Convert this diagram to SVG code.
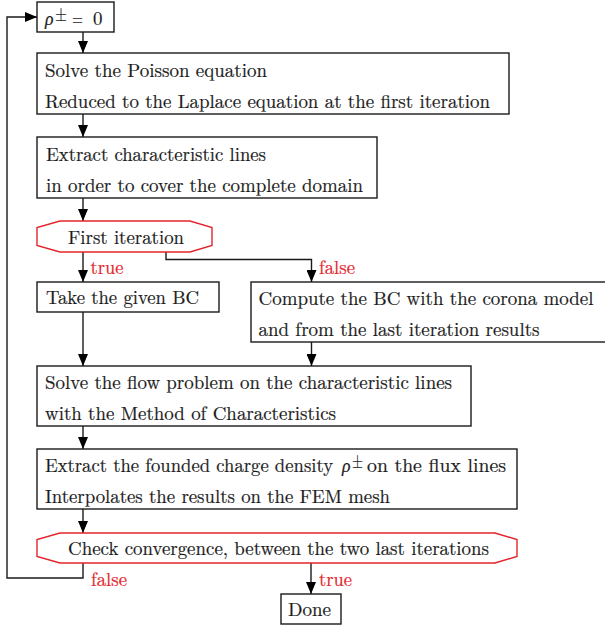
<svg xmlns="http://www.w3.org/2000/svg" width="605" height="627" viewBox="0 0 605 627" font-family="Latin Modern Roman, Liberation Serif, serif">
<defs>
<style>
.box{fill:#fff;stroke:#1a1a1a;stroke-width:1.4}
.dec{fill:#fff;stroke:#e3242b;stroke-width:1.4}
.t{font-size:19px;fill:#1a1a1a;stroke:#1a1a1a;stroke-width:0.2}
.lbl{font-size:19px;fill:#e3242b;stroke:#e3242b;stroke-width:0.2}
.c{fill:none;stroke:#1a1a1a;stroke-width:1.4}
</style>
<marker id="ah" viewBox="0 0 12 10" refX="12" refY="5" markerWidth="12" markerHeight="10" markerUnits="userSpaceOnUse" orient="auto">
<path d="M0,0 L12,5 L0,10 Z" fill="#000"/>
</marker>
</defs>
<rect width="605" height="627" fill="#fff"/>

<g id="connectors" font-family="Latin Modern Roman, Liberation Serif, serif">
<path class="c" d="M83,563 V578 H7 V17 H37" marker-end="url(#ah)"/>
<path class="c" d="M83,32 V53" marker-end="url(#ah)"/>
<path class="c" d="M83,114 V137" marker-end="url(#ah)"/>
<path class="c" d="M83,198 V221" marker-end="url(#ah)"/>
<path class="c" d="M83,252 V282" marker-end="url(#ah)"/>
<path class="c" d="M166,252 V259.5 H311.5 V282" marker-end="url(#ah)"/>
<path class="c" d="M83,312 V366" marker-end="url(#ah)"/>
<path class="c" d="M311.5,342 V366" marker-end="url(#ah)"/>
<path class="c" d="M83,426 V449" marker-end="url(#ah)"/>
<path class="c" d="M83,509 V533" marker-end="url(#ah)"/>
<path class="c" d="M311,563 V594" marker-end="url(#ah)"/>
<text class="lbl" x="90.5" y="274" textLength="33" lengthAdjust="spacingAndGlyphs">true</text>
<text class="lbl" x="319" y="274" textLength="36" lengthAdjust="spacingAndGlyphs">false</text>
<text class="lbl" x="91" y="586" textLength="36" lengthAdjust="spacingAndGlyphs">false</text>
<text class="lbl" x="319" y="586" textLength="33" lengthAdjust="spacingAndGlyphs">true</text>
</g>

<g id="init" font-family="Latin Modern Roman, Liberation Serif, serif">
<rect class="box" x="37" y="2" width="77" height="30"/>
<text class="t" x="45" y="25" font-style="italic" textLength="8.5" lengthAdjust="spacingAndGlyphs">ρ</text>
<text class="t" x="55" y="20.5" font-size="15px" textLength="12" lengthAdjust="spacingAndGlyphs">±</text>
<text class="t" x="72" y="25" textLength="11" lengthAdjust="spacingAndGlyphs">=</text>
<text class="t" x="93" y="25" textLength="9.5" lengthAdjust="spacingAndGlyphs">0</text>
</g>

<g id="poisson" font-family="Latin Modern Roman, Liberation Serif, serif">
<rect class="box" x="37" y="53" width="472" height="61"/>
<text class="t" x="45" y="77" textLength="222" lengthAdjust="spacingAndGlyphs">Solve the Poisson equation</text>
<text class="t" x="45" y="108" textLength="445" lengthAdjust="spacingAndGlyphs">Reduced to the Laplace equation at the first iteration</text>
</g>

<g id="extract-lines" font-family="Latin Modern Roman, Liberation Serif, serif">
<rect class="box" x="37" y="137" width="340" height="61"/>
<text class="t" x="46" y="161" textLength="220" lengthAdjust="spacingAndGlyphs">Extract characteristic lines</text>
<text class="t" x="46" y="192" textLength="317" lengthAdjust="spacingAndGlyphs">in order to cover the complete domain</text>
</g>

<g id="first-iteration" font-family="Latin Modern Roman, Liberation Serif, serif">
<path class="dec" d="M60,221 H190 L212,227.5 V245.5 L190,252 H60 L37,245.5 V227.5 Z"/>
<text class="t" x="68" y="244" textLength="116" lengthAdjust="spacingAndGlyphs">First iteration</text>
</g>

<g id="take-bc" font-family="Latin Modern Roman, Liberation Serif, serif">
<rect class="box" x="37" y="282" width="182" height="30"/>
<text class="t" x="46" y="304" textLength="153" lengthAdjust="spacingAndGlyphs">Take the given BC</text>
</g>

<g id="compute-bc" font-family="Latin Modern Roman, Liberation Serif, serif">
<rect class="box" x="251" y="282" width="360" height="60"/>
<text class="t" x="258.5" y="305" textLength="335" lengthAdjust="spacingAndGlyphs">Compute the BC with the corona model</text>
<text class="t" x="258.5" y="336" textLength="281" lengthAdjust="spacingAndGlyphs">and from the last iteration results</text>
</g>

<g id="solve-flow" font-family="Latin Modern Roman, Liberation Serif, serif">
<rect class="box" x="37" y="366" width="434" height="60"/>
<text class="t" x="45" y="389" textLength="407" lengthAdjust="spacingAndGlyphs">Solve the flow problem on the characteristic lines</text>
<text class="t" x="45" y="420" textLength="291" lengthAdjust="spacingAndGlyphs">with the Method of Characteristics</text>
</g>

<g id="extract-charge" font-family="Latin Modern Roman, Liberation Serif, serif">
<rect class="box" x="37" y="449" width="480" height="60"/>
<text class="t" x="45" y="472" textLength="288" lengthAdjust="spacingAndGlyphs">Extract the founded charge density</text>
<text class="t" x="342" y="472" font-style="italic" textLength="8.5" lengthAdjust="spacingAndGlyphs">ρ</text>
<text class="t" x="352" y="468" font-size="15px" textLength="11" lengthAdjust="spacingAndGlyphs">±</text>
<text class="t" x="367" y="472" textLength="139" lengthAdjust="spacingAndGlyphs">on the flux lines</text>
<text class="t" x="45" y="503" textLength="345" lengthAdjust="spacingAndGlyphs">Interpolates the results on the FEM mesh</text>
</g>

<g id="check-convergence" font-family="Latin Modern Roman, Liberation Serif, serif">
<path class="dec" d="M60,533 H495 L517,539.5 V556.5 L495,563 H60 L37,556.5 V539.5 Z"/>
<text class="t" x="68" y="555" textLength="421" lengthAdjust="spacingAndGlyphs">Check convergence, between the two last iterations</text>
</g>

<g id="done" font-family="Latin Modern Roman, Liberation Serif, serif">
<rect class="box" x="281" y="594" width="60" height="30"/>
<text class="t" x="288" y="616" textLength="43" lengthAdjust="spacingAndGlyphs">Done</text>
</g>
</svg>
